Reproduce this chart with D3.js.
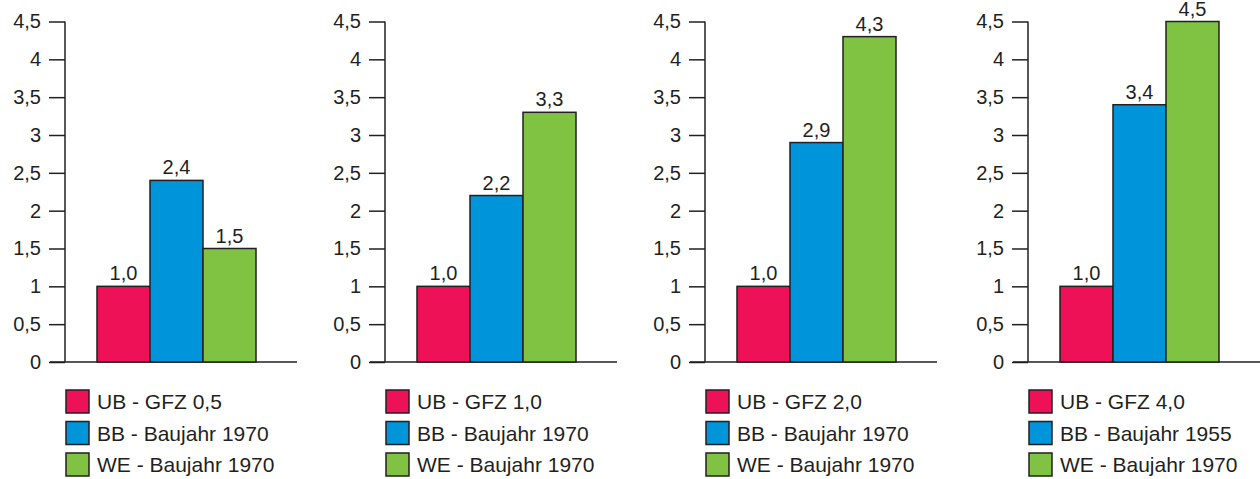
<!DOCTYPE html>
<html><head><meta charset="utf-8">
<script src="https://cdn.jsdelivr.net/npm/d3@7"></script>
<style>body{margin:0;background:#fff}svg{display:block}text{font-family:"Liberation Sans",Arial,sans-serif;fill:#231f20}</style>
</head><body><svg id="c" width="1260" height="479"></svg>
<script>
const categories = ["UB","BB","WE"];
const ubValues = [1.0, 1.0, 1.0, 1.0];
const bbValues = [2.4, 2.2, 2.9, 3.4];
const weValues = [1.5, 3.3, 4.3, 4.5];
const legendUB = ["UB - GFZ 0,5","UB - GFZ 1,0","UB - GFZ 2,0","UB - GFZ 4,0"];
const legendBB = ["BB - Baujahr 1970","BB - Baujahr 1970","BB - Baujahr 1970","BB - Baujahr 1955"];
const legendWE = ["WE - Baujahr 1970","WE - Baujahr 1970","WE - Baujahr 1970","WE - Baujahr 1970"];
const yTicks = [0,0.5,1,1.5,2,2.5,3,3.5,4,4.5];
const colors = {UB:"#ee1157", BB:"#0095da", WE:"#80c342"};
const panelX = [0, 320, 640, 963];

const svg = d3.select("#c");
const y = d3.scaleLinear().domain([0,4.5]).range([362,21.5]);
const x = d3.scaleBand().domain(categories).range([97,256]).padding(0);
const comma = v => String(v).replace(".", ",");

panelX.forEach((px, i) => {
  const g = svg.append("g").attr("transform", `translate(${px},0)`);
  const vals = {UB: ubValues[i], BB: bbValues[i], WE: weValues[i]};
  g.append("line").attr("x1",50).attr("x2",297).attr("y1",y(0)).attr("y2",y(0))
    .attr("stroke","#231f20").attr("stroke-width",1.5);
  const ax = g.append("g").attr("transform","translate(65,0)")
    .call(d3.axisLeft(y).tickValues(yTicks).tickSize(16).tickPadding(8).tickFormat(comma));
  ax.select(".domain").attr("stroke","#231f20").attr("stroke-width",1.5).attr("d",`M0,${y(4.5)}V${y(0)}`);
  ax.selectAll(".tick line").attr("stroke","#231f20").attr("stroke-width",1.5);
  ax.selectAll(".tick text").attr("font-size",20).attr("fill","#231f20")
    .attr("font-family",'"Liberation Sans",Arial,sans-serif');
  categories.forEach(c => {
    g.append("rect").attr("x",x(c)).attr("width",x.bandwidth())
      .attr("y",y(vals[c])).attr("height",y(0)-y(vals[c]))
      .attr("fill",colors[c]).attr("stroke","#231f20").attr("stroke-width",1.5);
    g.append("text").attr("x",x(c)+x.bandwidth()/2).attr("y",y(vals[c])-6)
      .attr("text-anchor","middle").attr("font-size",20).text(vals[c].toFixed(1).replace(".",","));
  });
  const labels = [legendUB[i], legendBB[i], legendWE[i]];
  categories.forEach((c, k) => {
    const yy = 390 + k*31.5;
    g.append("rect").attr("x",66).attr("y",yy).attr("width",23).attr("height",23)
      .attr("fill",colors[c]).attr("stroke","#231f20").attr("stroke-width",1.5);
    g.append("text").attr("x",97).attr("y",yy+19).attr("font-size",21).text(labels[k]);
  });
});
</script></body></html>
